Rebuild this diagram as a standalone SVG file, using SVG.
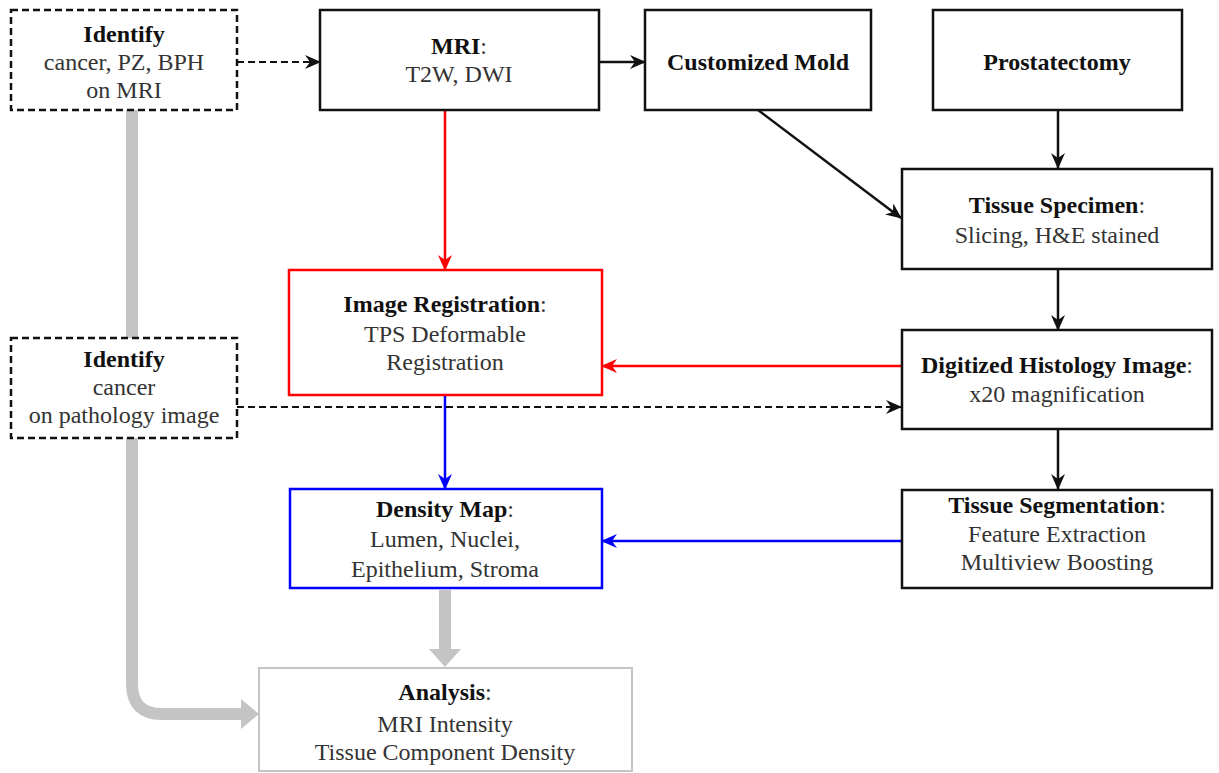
<svg xmlns="http://www.w3.org/2000/svg" width="1219" height="773" viewBox="0 0 1219 773">
<style>
text{font-family:'Liberation Serif','Times New Roman',serif;font-size:24px;fill:#333;text-anchor:middle}
.b{font-weight:bold;fill:#111}
.box{fill:#fff;stroke:#111;stroke-width:2.5}
.dash{fill:#fff;stroke:#111;stroke-width:2.5;stroke-dasharray:7,4}
.red{fill:#fff;stroke:#ff0000;stroke-width:2.5}
.blue{fill:#fff;stroke:#0000ff;stroke-width:2.5}
.gray{fill:#fff;stroke:#c4c4c4;stroke-width:2}
.k{stroke:#111;stroke-width:2.5;fill:none}
.kd{stroke:#111;stroke-width:2.2;fill:none;stroke-dasharray:7,4}
.r{stroke:#ff0000;stroke-width:2.5;fill:none}
.bl{stroke:#0000ff;stroke-width:2.5;fill:none}
.g{stroke:#c4c4c4;stroke-width:12;fill:none}
</style>
<defs>
<marker id="ak" markerWidth="16" markerHeight="14" refX="15" refY="7" orient="auto" markerUnits="userSpaceOnUse"><path d="M0,0 L16,7 L0,14 L5,7 z" fill="#111"/></marker>
<marker id="ar" markerWidth="16" markerHeight="14" refX="15" refY="7" orient="auto" markerUnits="userSpaceOnUse"><path d="M0,0 L16,7 L0,14 L5,7 z" fill="#ff0000"/></marker>
<marker id="ab" markerWidth="16" markerHeight="14" refX="15" refY="7" orient="auto" markerUnits="userSpaceOnUse"><path d="M0,0 L16,7 L0,14 L5,7 z" fill="#0000ff"/></marker>
</defs>
<g id="connectors">
<path class="g" d="M132,110 V684 Q132,714 162,714 H242"/>
<path d="M241,699 L259,714 L241,729 z" fill="#c4c4c4"/>
<path class="g" d="M445,590 V651"/>
<path d="M429,649 L445,667 L461,649 z" fill="#c4c4c4"/>
<path class="kd" d="M237,62 H320" marker-end="url(#ak)"/>
<path class="k" d="M599,62 H645" marker-end="url(#ak)"/>
<path class="k" d="M758,110 L901,218" marker-end="url(#ak)"/>
<path class="k" d="M1058,110 V168" marker-end="url(#ak)"/>
<path class="k" d="M1058,270 V330" marker-end="url(#ak)"/>
<path class="k" d="M1058,430 V489" marker-end="url(#ak)"/>
<path class="r" d="M445,110 V270" marker-end="url(#ar)"/>
<path class="r" d="M901,366 H602" marker-end="url(#ar)"/>
<path class="bl" d="M445,396 V489" marker-end="url(#ab)"/>
<path class="bl" d="M901,541 H602" marker-end="url(#ab)"/>
<path class="kd" d="M237,407 H901" marker-end="url(#ak)"/>
</g>
<g id="identify1">
<rect class="dash" x="11" y="10" width="226" height="100"/>
<text x="124" y="42" class="b">Identify</text>
<text x="124" y="70">cancer, PZ, BPH</text>
<text x="124" y="98">on MRI</text>
</g>
<g id="mri">
<rect class="box" x="320" y="10" width="279" height="100"/>
<text x="459" y="54"><tspan class="b">MRI</tspan>:</text>
<text x="459" y="82">T2W, DWI</text>
</g>
<g id="mold">
<rect class="box" x="645" y="10" width="226" height="100"/>
<text x="758" y="70" class="b">Customized Mold</text>
</g>
<g id="prostatectomy">
<rect class="box" x="933" y="10" width="249" height="100"/>
<text x="1057" y="70" class="b">Prostatectomy</text>
</g>
<g id="specimen">
<rect class="box" x="902" y="169" width="310" height="100"/>
<text x="1057" y="213"><tspan class="b">Tissue Specimen</tspan>:</text>
<text x="1057" y="243">Slicing, H&amp;E stained</text>
</g>
<g id="registration">
<rect class="red" x="289" y="270" width="313" height="125"/>
<text x="445" y="312"><tspan class="b">Image Registration</tspan>:</text>
<text x="445" y="342">TPS Deformable</text>
<text x="445" y="370">Registration</text>
</g>
<g id="identify2">
<rect class="dash" x="11" y="338" width="226" height="100"/>
<text x="124" y="367" class="b">Identify</text>
<text x="124" y="395">cancer</text>
<text x="124" y="423">on pathology image</text>
</g>
<g id="histology">
<rect class="box" x="902" y="330" width="310" height="99"/>
<text x="1057" y="373"><tspan class="b">Digitized Histology Image</tspan>:</text>
<text x="1057" y="402">x20 magnification</text>
</g>
<g id="density">
<rect class="blue" x="290" y="489" width="312" height="99"/>
<text x="445" y="517"><tspan class="b">Density Map</tspan>:</text>
<text x="445" y="547">Lumen, Nuclei,</text>
<text x="445" y="577">Epithelium, Stroma</text>
</g>
<g id="segmentation">
<rect class="box" x="902" y="490" width="310" height="98"/>
<text x="1057" y="513"><tspan class="b">Tissue Segmentation</tspan>:</text>
<text x="1057" y="542">Feature Extraction</text>
<text x="1057" y="570">Multiview Boosting</text>
</g>
<g id="analysis">
<rect class="gray" x="259" y="668" width="373" height="103"/>
<text x="445" y="700"><tspan class="b">Analysis</tspan>:</text>
<text x="445" y="732">MRI Intensity</text>
<text x="445" y="760">Tissue Component Density</text>
</g>
</svg>
